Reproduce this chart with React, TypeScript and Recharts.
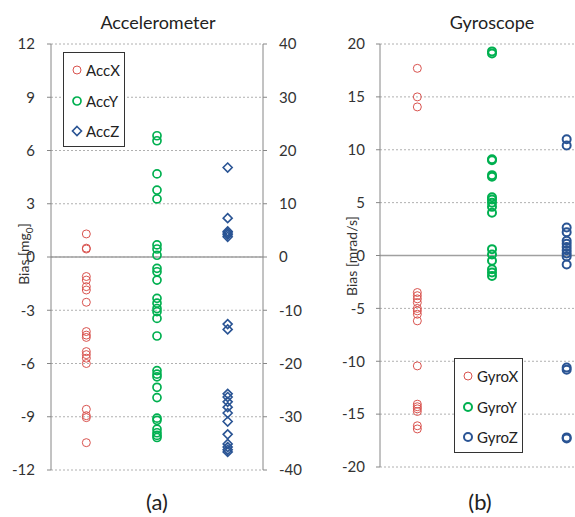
import React from "react";
import {
  ScatterChart,
  Scatter,
  XAxis,
  YAxis,
  CartesianGrid,
  ReferenceLine,
  Label,
} from "recharts";

// accelerometer bias, mg0 (AccZ is read on the right axis)
const accX = [1.3, 0.5, 0.45, -1.1, -1.3, -1.67, -1.86, -2.55, -4.2, -4.4, -4.53, -5.33, -5.5, -5.7, -6.0, -8.58, -8.94, -9.05, -10.46];
const accY = [6.83, 6.55, 4.68, 3.77, 3.27, 0.68, 0.45, 0.1, -0.64, -0.83, -1.3, -2.33, -2.6, -2.9, -3.08, -3.46, -4.45, -6.4, -6.6, -6.75, -7.34, -7.92, -9.08, -9.2, -9.7, -9.9, -10.05, -10.17];
const accZ = [16.8, 7.3, 4.8, 4.5, 4.2, 3.8, -12.6, -13.6, -25.7, -26.3, -27.2, -28.2, -29.3, -30.9, -33.3, -35.1, -35.7, -36.2, -36.6];

// gyroscope bias, mrad/s
const gyroX = [17.7, 15.0, 14.05, -3.5, -3.8, -4.1, -4.45, -5.0, -5.24, -5.55, -6.18, -10.44, -14.06, -14.3, -14.5, -14.75, -16.1, -16.4];
const gyroY = [19.3, 19.1, 9.1, 9.0, 7.6, 7.45, 5.5, 5.3, 5.0, 4.6, 4.05, 0.6, 0.1, -0.5, -1.3, -1.6, -1.93];
const gyroZ = [11.0, 10.4, 2.65, 2.2, 1.4, 1.1, 0.8, 0.5, 0.2, -0.1, -0.85, -10.6, -10.8, -17.2, -17.3];

const accLeftTicks = [-12, -9, -6, -3, 0, 3, 6, 9, 12];
const accRightTicks = [-40, -30, -20, -10, 0, 10, 20, 30, 40];
const gyroTicks = [-20, -15, -10, -5, 0, 5, 10, 15, 20];

const RED = "#d9534f";
const GREEN = "#00b050";
const BLUE = "#2a5494";
const AXIS = "#868686";
const FONT = "Lato, 'Liberation Sans', sans-serif";

const toPoints = (col: number, values: number[]) => values.map((y) => ({ x: col, y }));

const ring = (color: string, width: number) => (p: any) => (
  <circle cx={p.cx} cy={p.cy} r={4} fill="none" stroke={color} strokeWidth={width} />
);

const diamond = (color: string) => (p: any) => (
  <polygon
    points={`${p.cx},${p.cy - 4.5} ${p.cx + 4.5},${p.cy} ${p.cx},${p.cy + 4.5} ${p.cx - 4.5},${p.cy}`}
    fill="none"
    stroke={color}
    strokeWidth={1.6}
  />
);

type Item = { name: string; color: string; width: number; kind: "ring" | "diamond" };

function LegendBox({ items, left, top, w, h }: { items: Item[]; left: number; top: number; w: number; h: number }) {
  return (
    <div
      style={{
        position: "absolute",
        left,
        top,
        width: w,
        height: h,
        boxSizing: "border-box",
        border: "1.5px solid #333",
        background: "#fff",
        padding: "2px 0 0 7px",
        fontFamily: FONT,
        fontSize: 15,
        color: "#222",
      }}
    >
      {items.map((it) => (
        <div key={it.name} style={{ display: "flex", alignItems: "center", height: 30.5 }}>
          <svg width={12} height={12} style={{ marginRight: 3 }}>
            {it.kind === "ring" ? (
              <circle cx={6} cy={6} r={4} fill="none" stroke={it.color} strokeWidth={it.width} />
            ) : (
              <polygon points="6,1.5 10.5,6 6,10.5 1.5,6" fill="none" stroke={it.color} strokeWidth={1.6} />
            )}
          </svg>
          <span>{it.name}</span>
        </div>
      ))}
    </div>
  );
}

const yLabel = (x: number, y: number, main: string, sub?: string, tail?: string) => () => (
  <text
    x={x}
    y={y}
    transform={`rotate(-90, ${x}, ${y})`}
    textAnchor="middle"
    fontFamily={FONT}
    fontSize={14}
    fill="#333"
  >
    {main}
    {sub && (
      <tspan fontSize={10} dy={4}>
        {sub}
      </tspan>
    )}
    {tail && <tspan dy={sub ? -4 : 0}>{tail}</tspan>}
  </text>
);

const tick = { fill: "#333", fontSize: 15, fontFamily: FONT };

const caption: React.CSSProperties = {
  position: "absolute",
  fontFamily: FONT,
  color: "#222",
  textAlign: "center",
  transform: "translateX(-50%)",
  whiteSpace: "nowrap",
};

export default function App() {
  return (
    <div
      style={{
        position: "fixed",
        left: 0,
        top: 0,
        width: 575,
        height: 517,
        overflow: "hidden",
        background: "#fff",
      }}
    >
      <div style={{ ...caption, left: 158, top: 11, fontSize: 18 }}>Accelerometer</div>
      <div style={{ ...caption, left: 157, top: 488, fontSize: 22 }}>(a)</div>
      <div style={{ ...caption, left: 492, top: 11, fontSize: 18 }}>Gyroscope</div>
      <div style={{ ...caption, left: 480, top: 488, fontSize: 22 }}>(b)</div>

      <div style={{ position: "absolute", left: 0, top: 0 }}>
        <ScatterChart width={310} height={517} margin={{ top: 44, right: 0, bottom: 47, left: 0 }}>
          <CartesianGrid vertical={false} stroke="#b0b0b0" strokeDasharray="2 2" yAxisId="l" />
          <XAxis type="number" dataKey="x" domain={[0.5, 3.5]} hide />
          <YAxis
            yAxisId="l"
            type="number"
            dataKey="y"
            domain={[-12, 12]}
            ticks={accLeftTicks}
            width={51}
            stroke={AXIS}
            tickSize={4}
            tickMargin={12}
            tick={tick}
            interval={0}
          >
            <Label content={yLabel(29, 254, "Bias [mg", "0", "]")} />
          </YAxis>
          <YAxis
            yAxisId="r"
            orientation="right"
            type="number"
            dataKey="y"
            domain={[-40, 40]}
            ticks={accRightTicks}
            width={47}
            stroke={AXIS}
            tickSize={4}
            tickMargin={12}
            tick={{ ...tick, textAnchor: "start" }}
            interval={0}
          />
          <ReferenceLine yAxisId="l" y={0} stroke="#a0a0a0" strokeWidth={1.6} />
          <Scatter yAxisId="l" name="AccX" data={toPoints(1, accX)} shape={ring(RED, 1)} isAnimationActive={false} />
          <Scatter yAxisId="l" name="AccY" data={toPoints(2, accY)} shape={ring(GREEN, 1.7)} isAnimationActive={false} />
          <Scatter yAxisId="r" name="AccZ" data={toPoints(3, accZ)} shape={diamond(BLUE)} isAnimationActive={false} />
        </ScatterChart>
      </div>

      <div style={{ position: "absolute", left: 290, top: 0 }}>
        <ScatterChart width={330} height={517} margin={{ top: 44, right: 16, bottom: 50, left: 0 }}>
          <CartesianGrid vertical={false} stroke="#b0b0b0" strokeDasharray="2 2" />
          <XAxis type="number" dataKey="x" domain={[0.5, 3.5]} hide />
          <YAxis
            type="number"
            dataKey="y"
            domain={[-20, 20]}
            ticks={gyroTicks}
            width={90}
            stroke={AXIS}
            tickSize={4}
            tickMargin={11}
            tick={tick}
            interval={0}
          >
            <Label content={yLabel(67, 256, "Bias [mrad/s]")} />
          </YAxis>
          <ReferenceLine y={0} stroke="#a0a0a0" strokeWidth={1.6} />
          <Scatter name="GyroX" data={toPoints(1, gyroX)} shape={ring(RED, 1)} isAnimationActive={false} />
          <Scatter name="GyroY" data={toPoints(2, gyroY)} shape={ring(GREEN, 2)} isAnimationActive={false} />
          <Scatter name="GyroZ" data={toPoints(3, gyroZ)} shape={ring(BLUE, 2)} isAnimationActive={false} />
        </ScatterChart>
      </div>

      <LegendBox
        left={63}
        top={52}
        w={62}
        h={95}
        items={[
          { name: "AccX", color: RED, width: 1, kind: "ring" },
          { name: "AccY", color: GREEN, width: 1.7, kind: "ring" },
          { name: "AccZ", color: BLUE, width: 1.6, kind: "diamond" },
        ]}
      />
      <LegendBox
        left={454}
        top={358}
        w={69}
        h={95}
        items={[
          { name: "GyroX", color: RED, width: 1, kind: "ring" },
          { name: "GyroY", color: GREEN, width: 2, kind: "ring" },
          { name: "GyroZ", color: BLUE, width: 2, kind: "ring" },
        ]}
      />
    </div>
  );
}
